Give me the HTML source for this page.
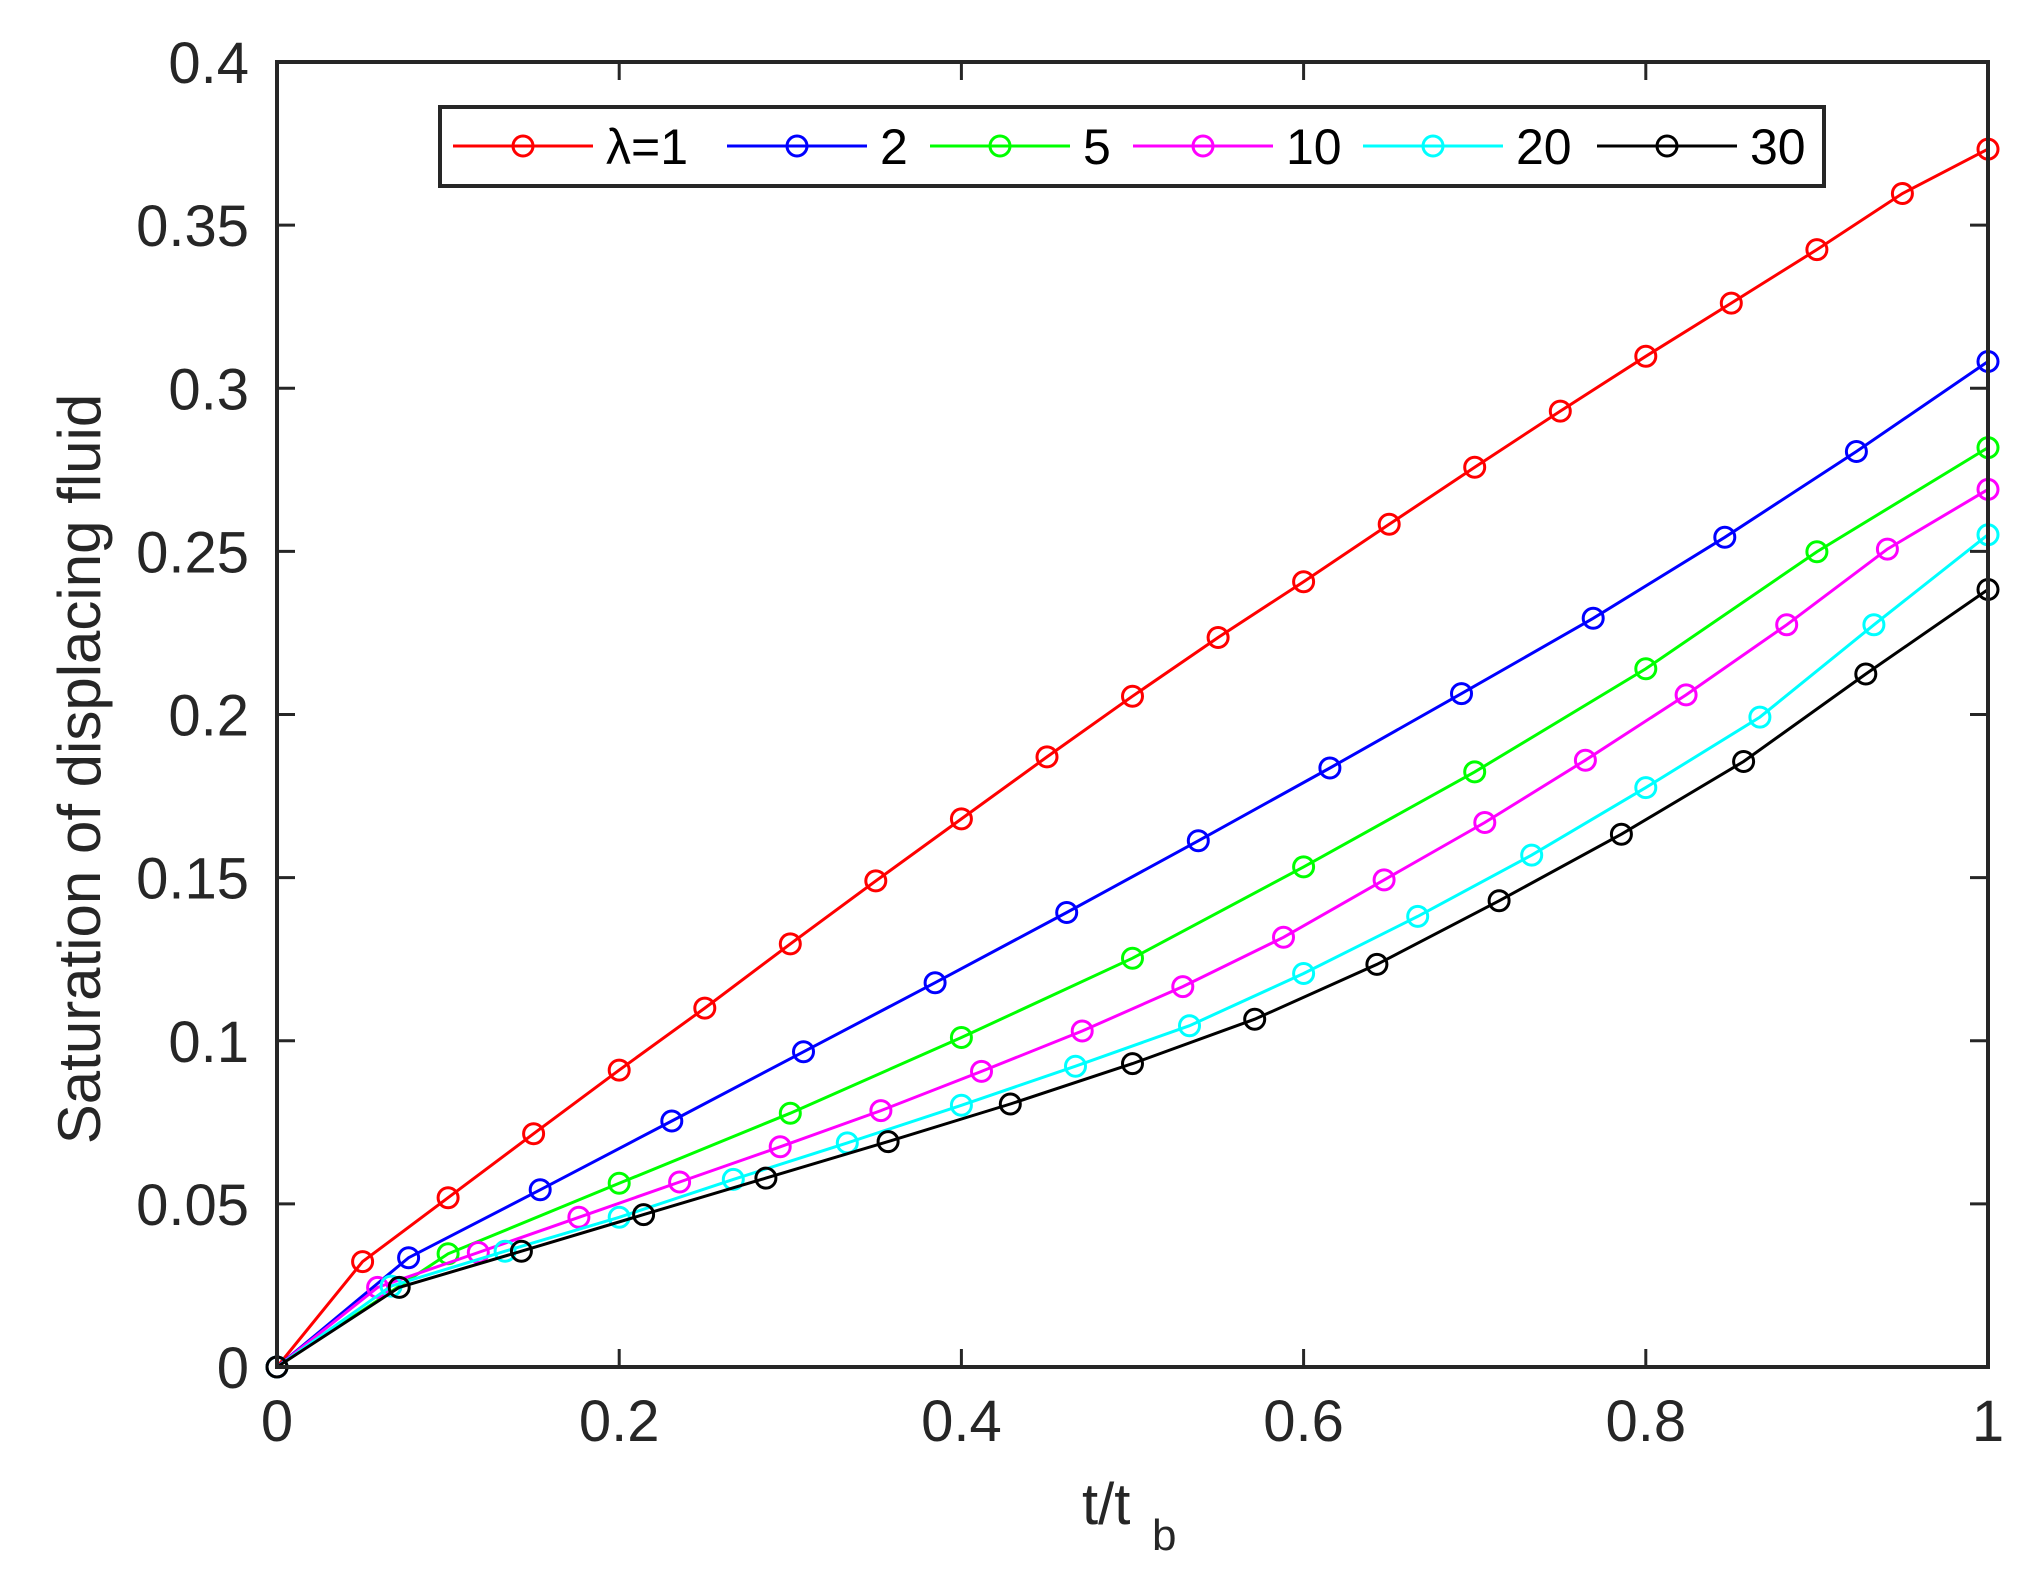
<!DOCTYPE html>
<html><head><meta charset="utf-8"><style>html,body{margin:0;padding:0;background:#fff}svg{display:block}</style></head>
<body>
<svg id="s" width="2042" height="1591" viewBox="0 0 2042 1591" xmlns="http://www.w3.org/2000/svg" font-family="Liberation Sans, sans-serif"></svg>
<script>
const L=277,R=1988,T=62,B=1367;
const X=x=>L+x*(R-L), Y=y=>B-y/0.4*(B-T);
let h='';
const series=[
['#ff0000',20,[0,.0323,.0519,.0715,.091,.110,.1297,.149,.168,.187,.2056,.2236,.2407,.2583,.2758,.293,.3098,.3261,.3425,.3597,.3733]],
['#0000ff',13,[0,.0335,.0543,.0754,.0966,.1178,.1393,.1613,.1836,.2064,.2295,.2543,.2806,.3082]],
['#00ff00',10,[0,.0347,.0563,.0778,.101,.1253,.1533,.1824,.214,.2499,.2818]],
['#ff00ff',17,[0,.0244,.0351,.0459,.0567,.0675,.0786,.0906,.103,.1166,.1317,.1493,.1669,.186,.206,.2275,.2507,.269]],
['#00ffff',15,[0,.0248,.0355,.0459,.0575,.0687,.0802,.0922,.1046,.1206,.1381,.1569,.1776,.1992,.2275,.2551]],
['#000000',14,[0,.0244,.0355,.0467,.0579,.0691,.0806,.093,.1066,.1234,.1429,.1633,.1856,.2124,.2383]]
];
for(const [c,n,v] of series){
  const pts=v.map((y,i)=>[X(i/n),Y(y)]);
  h+=`<polyline fill="none" stroke="${c}" stroke-width="3" points="${pts.map(p=>p[0].toFixed(1)+','+p[1].toFixed(1)).join(' ')}"/>`;
  for(const p of pts) h+=`<circle cx="${p[0].toFixed(1)}" cy="${p[1].toFixed(1)}" r="10" fill="none" stroke="${c}" stroke-width="3"/>`;
}
h+=`<rect x="${L}" y="${T}" width="${R-L}" height="${B-T}" fill="none" stroke="#262626" stroke-width="4"/>`;
for(let i=0;i<=5;i++){const x=X(i/5);
 h+=`<line x1="${x}" y1="${B}" x2="${x}" y2="${B-18}" stroke="#262626" stroke-width="3"/><line x1="${x}" y1="${T}" x2="${x}" y2="${T+18}" stroke="#262626" stroke-width="3"/>`;
 const lab=['0','0.2','0.4','0.6','0.8','1'][i];
 h+=`<text x="${x}" y="1441" font-size="58" fill="#262626" text-anchor="middle">${lab}</text>`;}
for(let i=0;i<=8;i++){const y=Y(i*0.05);
 h+=`<line x1="${L}" y1="${y}" x2="${L+18}" y2="${y}" stroke="#262626" stroke-width="3"/><line x1="${R}" y1="${y}" x2="${R-18}" y2="${y}" stroke="#262626" stroke-width="3"/>`;
 const lab=['0','0.05','0.1','0.15','0.2','0.25','0.3','0.35','0.4'][i];
 h+=`<text x="249" y="${y+21}" font-size="58" fill="#262626" text-anchor="end">${lab}</text>`;}
h+=`<text x="1082" y="1524" font-size="58" fill="#262626">t/t</text><text x="1152" y="1550" font-size="44" fill="#262626">b</text>`;
h+=`<text transform="translate(100,769) rotate(-90)" font-size="60" fill="#262626" text-anchor="middle">Saturation of displacing fluid</text>`;
h+=`<rect x="440" y="107" width="1384" height="79" fill="#fff" stroke="#262626" stroke-width="4"/>`;
const leg=[['#ff0000',523,'λ=1'],['#0000ff',797,'2'],['#00ff00',1000,'5'],['#ff00ff',1203,'10'],['#00ffff',1433,'20'],['#000000',1667,'30']];
for(const [c,m,t] of leg){
 h+=`<line x1="${m-70}" y1="146" x2="${m+70}" y2="146" stroke="${c}" stroke-width="3"/><circle cx="${m}" cy="146" r="10" fill="none" stroke="${c}" stroke-width="3"/>`;
 h+=`<text x="${m+83}" y="164" font-size="50" fill="#000">${t}</text>`;}
document.getElementById('s').innerHTML=h;
</script>
</body></html>
